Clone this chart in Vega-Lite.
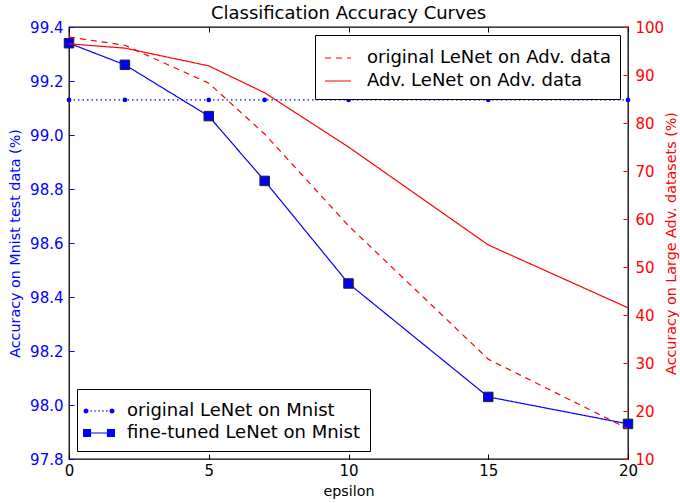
{
  "$schema": "https://vega.github.io/schema/vega-lite/v6.json",
  "width": 559,
  "height": 432,
  "autosize": {"type": "none"},
  "padding": {"left": 69, "top": 27, "right": 52, "bottom": 44},
  "title": {"text": "Classification Accuracy Curves", "fontSize": 18, "fontWeight": "normal", "font": "DejaVu Sans", "color": "black", "offset": -3},
  "config": {
    "font": "DejaVu Sans",
    "view": {"stroke": "black", "strokeWidth": 1.3},
    "axis": {"grid": false, "domain": false, "labelFontSize": 15, "titleFontSize": 14.3, "titleFontWeight": "normal", "labelFont": "DejaVu Sans", "titleFont": "DejaVu Sans", "tickSize": -5, "tickWidth": 1},
    "legend": {"strokeColor": "black", "fillColor": "white", "padding": 9, "labelFontSize": 18, "labelFont": "DejaVu Sans", "labelColor": "black", "rowPadding": 0, "labelOffset": 15, "labelLimit": 0}
  },
  "layer": [
    {
      "data": {"values": [
        {"eps": 0, "acc": 99.13, "series": "original LeNet on Mnist"},
        {"eps": 2, "acc": 99.13, "series": "original LeNet on Mnist"},
        {"eps": 5, "acc": 99.13, "series": "original LeNet on Mnist"},
        {"eps": 7, "acc": 99.13, "series": "original LeNet on Mnist"},
        {"eps": 10, "acc": 99.13, "series": "original LeNet on Mnist"},
        {"eps": 15, "acc": 99.13, "series": "original LeNet on Mnist"},
        {"eps": 20, "acc": 99.13, "series": "original LeNet on Mnist"},
        {"eps": 0, "acc": 99.34, "series": "fine-tuned LeNet on Mnist"},
        {"eps": 2, "acc": 99.26, "series": "fine-tuned LeNet on Mnist"},
        {"eps": 5, "acc": 99.07, "series": "fine-tuned LeNet on Mnist"},
        {"eps": 7, "acc": 98.83, "series": "fine-tuned LeNet on Mnist"},
        {"eps": 10, "acc": 98.45, "series": "fine-tuned LeNet on Mnist"},
        {"eps": 15, "acc": 98.03, "series": "fine-tuned LeNet on Mnist"},
        {"eps": 20, "acc": 97.93, "series": "fine-tuned LeNet on Mnist"}
      ]},
      "encoding": {
        "x": {"field": "eps", "type": "quantitative", "scale": {"domain": [0, 20], "nice": false}, "axis": {"orient": "bottom", "values": [0, 5, 10, 15, 20], "title": "epsilon", "labelColor": "black", "tickColor": "black", "titleColor": "black", "labelPadding": 9, "titlePadding": 6, "labelFlush": false}},
        "y": {"field": "acc", "type": "quantitative", "scale": {"domain": [97.8, 99.4], "nice": false, "zero": false}, "axis": {"orient": "left", "values": [97.8, 98.0, 98.2, 98.4, 98.6, 98.8, 99.0, 99.2, 99.4], "format": ".1f", "title": "Accuracy on Mnist test data (%)", "labelColor": "#0000ff", "tickColor": "#0000ff", "titleColor": "#0000ff", "labelPadding": 11, "titlePadding": 7, "labelFlush": false}}
      },
      "layer": [
        {
          "mark": {"type": "line", "strokeWidth": 1.2},
          "encoding": {
            "color": {"field": "series", "type": "nominal", "scale": {"domain": ["original LeNet on Mnist", "fine-tuned LeNet on Mnist"], "range": ["#0000ff", "#0000ff"]},
              "legend": {"orient": "bottom-left", "offset": 8, "title": null, "symbolSize": 676, "symbolType": "square",
                "encode": {"symbols": {"update": {
                  "shape": {"signal": "datum.value === 'original LeNet on Mnist' ? 'M-1.19,0A0.19,0.19 0 1,0 -0.81,0A0.19,0.19 0 1,0 -1.19,0Z M0.81,0A0.19,0.19 0 1,0 1.19,0A0.19,0.19 0 1,0 0.81,0Z M-0.645,-0.05H-0.555V0.05H-0.645Z M-0.345,-0.05H-0.255V0.05H-0.345Z M-0.045,-0.05H0.045V0.05H-0.045Z M0.255,-0.05H0.345V0.05H0.255Z M0.555,-0.05H0.645V0.05H0.555Z' : 'M-1.23,-0.31H-0.61V0.31H-1.23Z M-0.61,-0.045H0.61V0.045H-0.61Z M0.61,-0.31H1.23V0.31H0.61Z'"},
                  "fill": {"value": "#0000ff"},
                  "fillOpacity": {"value": 1},
                  "stroke": {"value": "#000033"},
                  "strokeWidth": {"value": 0},
                  "strokeDash": {"value": []}
                }}}
              }},
            "strokeDash": {"field": "series", "type": "nominal", "scale": {"domain": ["original LeNet on Mnist", "fine-tuned LeNet on Mnist"], "range": [[1.5, 3], [1, 0]]}, "legend": null}
          }
        },
        {
          "transform": [{"filter": "datum.series === 'original LeNet on Mnist'"}],
          "mark": {"type": "point", "filled": true, "shape": "circle", "size": 22, "color": "#0000ff", "opacity": 1}
        },
        {
          "transform": [{"filter": "datum.series === 'fine-tuned LeNet on Mnist'"}],
          "mark": {"type": "point", "filled": true, "shape": "square", "size": 90, "fill": "#0000ff", "stroke": "#222222", "strokeWidth": 1, "opacity": 1, "fillOpacity": 1}
        }
      ]
    },
    {
      "data": {"values": [
        {"eps": 0, "acc": 97.9, "series": "original LeNet on Adv. data"},
        {"eps": 2, "acc": 96.2, "series": "original LeNet on Adv. data"},
        {"eps": 5, "acc": 88.3, "series": "original LeNet on Adv. data"},
        {"eps": 7, "acc": 77.7, "series": "original LeNet on Adv. data"},
        {"eps": 10, "acc": 58.6, "series": "original LeNet on Adv. data"},
        {"eps": 15, "acc": 30.8, "series": "original LeNet on Adv. data"},
        {"eps": 20, "acc": 16.3, "series": "original LeNet on Adv. data"},
        {"eps": 0, "acc": 96.5, "series": "Adv. LeNet on Adv. data"},
        {"eps": 2, "acc": 95.6, "series": "Adv. LeNet on Adv. data"},
        {"eps": 5, "acc": 91.9, "series": "Adv. LeNet on Adv. data"},
        {"eps": 7, "acc": 86.3, "series": "Adv. LeNet on Adv. data"},
        {"eps": 10, "acc": 75.0, "series": "Adv. LeNet on Adv. data"},
        {"eps": 15, "acc": 54.6, "series": "Adv. LeNet on Adv. data"},
        {"eps": 20, "acc": 41.5, "series": "Adv. LeNet on Adv. data"}
      ]},
      "mark": {"type": "line", "strokeWidth": 1.2},
      "encoding": {
        "x": {"field": "eps", "type": "quantitative", "scale": {"domain": [0, 20], "nice": false}, "axis": {"orient": "top", "values": [0, 5, 10, 15, 20], "labels": false, "title": null, "tickColor": "black"}},
        "y": {"field": "acc", "type": "quantitative", "scale": {"domain": [10, 100], "nice": false, "zero": false}, "axis": {"orient": "right", "values": [10, 20, 30, 40, 50, 60, 70, 80, 90, 100], "title": "Accuracy on Large Adv. datasets (%)", "titleAngle": 270, "labelColor": "#ff0000", "tickColor": "#ff0000", "titleColor": "#ff0000", "labelPadding": 12, "titlePadding": 15, "labelFlush": false}},
        "color": {"field": "series", "type": "nominal", "scale": {"domain": ["original LeNet on Adv. data", "Adv. LeNet on Adv. data"], "range": ["#ff0000", "#ff0000"]},
          "legend": {"orient": "top-right", "offset": 8, "title": null, "symbolType": "stroke", "symbolSize": 676, "symbolStrokeWidth": 1.2}},
        "strokeDash": {"field": "series", "type": "nominal", "scale": {"domain": ["original LeNet on Adv. data", "Adv. LeNet on Adv. data"], "range": [[6, 5], [1, 0]]},
          "legend": {"orient": "top-right", "offset": 8, "title": null, "symbolType": "stroke", "symbolSize": 676, "symbolStrokeWidth": 1.2}}
      }
    }
  ],
  "resolve": {"scale": {"y": "independent", "color": "independent", "strokeDash": "independent"}}
}
